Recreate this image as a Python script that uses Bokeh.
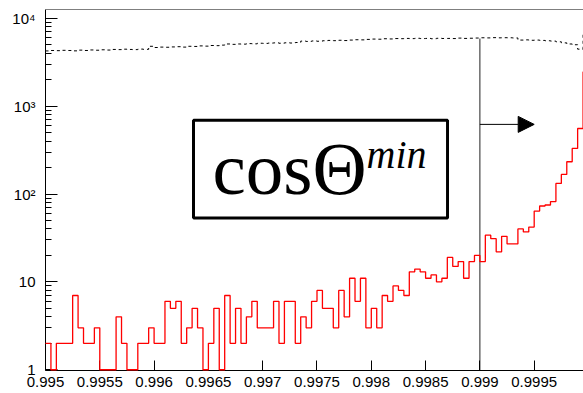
import numpy as np
from bokeh.plotting import figure
from bokeh.models import Range1d, FixedTicker, Span, BoxAnnotation, Arrow, NormalHead
from bokeh.core.properties import value
from bokeh.embed import file_html
from bokeh.resources import INLINE

# ---- data ----
bin_lo = 0.995
bin_hi = 1.0
n_bins = 100

red_counts = [2, 1, 2, 2, 2, 7, 3, 2, 2, 3,
              1, 1, 1, 4, 2, 1, 1, 2, 2, 3,
              2, 2, 6, 5, 6, 2, 3, 5, 3, 1,
              2, 5, 1, 7, 2, 5, 2, 4, 6, 3,
              3, 3, 6, 2, 6, 6, 2, 4, 3, 6,
              8, 5, 5, 3, 8, 4, 11, 6, 11, 3,
              5, 3, 7, 6, 9, 8, 7, 13, 14, 13,
              11, 12, 10, 11, 19, 15, 17, 11, 17, 20,
              17, 34, 31, 22, 33, 27, 27, 40, 37, 42,
              64, 73, 75, 82, 132, 167, 233, 330, 557, 2450]

all_counts = [4250, 4300, 4280, 4320, 4300, 4260, 4340, 4300, 4360, 4330,
              4380, 4350, 4420, 4400, 4450, 4420, 4400, 4460, 4430, 4800,
              4650, 4700, 4680, 4720, 4750, 4700, 4800, 4780, 4850, 4820,
              4900, 4880, 4950, 5100, 5050, 5100, 5080, 5150, 5120, 5200,
              5180, 5220, 5250, 5200, 5260, 5230, 5300, 5500, 5450, 5520,
              5480, 5550, 5600, 5560, 5620, 5580, 5650, 5700, 5680, 5750,
              5800, 5780, 5850, 5820, 5880, 5860, 5900, 5870, 5920, 5880,
              5900, 5850, 5920, 5890, 5900, 5880, 5950, 5900, 5930, 5960,
              6000, 5980, 6020, 5990, 6010, 6000, 5970, 5650, 5680, 5620,
              5650, 5600, 5550, 5500, 5400, 5250, 5100, 5000, 4450, 6800]

x_ticks = [0.995, 0.9955, 0.996, 0.9965, 0.997, 0.9975, 0.998, 0.9985, 0.999, 0.9995]
x_tick_labels = ["0.995", "0.9955", "0.996", "0.9965", "0.997", "0.9975",
                 "0.998", "0.9985", "0.999", "0.9995"]
y_ticks = [1, 10, 100, 1000, 10000]
y_tick_labels = ["1", "10", "10\u00b2", "10\u00b3", "10\u2074"]

cut_value = 0.999
cut_line_top = 5880
arrow_y = 620
arrow_end = 0.9995

edges = list(np.linspace(bin_lo, bin_hi, n_bins + 1))

p = figure(width=583, height=393, y_axis_type="log",
           x_range=Range1d(0.995, 0.999954), y_range=Range1d(0.98, 10 ** 4.1),
           output_backend="svg", toolbar_location=None,
           min_border_left=45, min_border_right=0, min_border_top=9, min_border_bottom=23)
p.outline_line_color = None
p.grid.visible = False
p.background_fill_color = "white"
p.border_fill_color = "white"

# histograms
p.step(x=edges, y=all_counts + [all_counts[-1]], mode="after",
       line_color="black", line_width=1, line_dash="3 3")
r = p.step(x=edges, y=red_counts + [red_counts[-1]], mode="after",
           line_color="#ff0000", line_width=1.3)
r.level = "overlay"

# cut line and arrow
p.segment(x0=[cut_value], y0=[0.98], x1=[cut_value], y1=[cut_line_top],
          line_color="#222222", line_width=1)
p.add_layout(Arrow(end=NormalHead(size=16, fill_color="black", line_color="black"),
                   x_start=cut_value, y_start=arrow_y, x_end=arrow_end, y_end=arrow_y,
                   line_color="black", line_width=1))

# top frame line
p.add_layout(Span(location=10 ** 4.1, dimension="width", line_color="black", line_width=1))

# label box
p.add_layout(BoxAnnotation(left=0.996363, right=0.998702, bottom=53.4, top=693,
                           fill_color="white", fill_alpha=1.0,
                           line_color="black", line_alpha=1.0, line_width=3,
                           level="annotation"))
t1 = p.text(x=[0.996538], y=[196.8], text=["cos\u0398"],
            text_font=value("Liberation Serif"), text_font_size="75px",
            text_color="black", text_baseline="alphabetic", text_align="left")
t2 = p.text(x=[0.997956], y=[280], text=["min"],
            text_font=value("Liberation Serif"), text_font_style="italic",
            text_font_size="40px", text_color="black",
            text_baseline="alphabetic", text_align="left")
t1.level = "overlay"
t2.level = "overlay"

# axes
xa = p.xaxis[0]
xa.ticker = FixedTicker(ticks=x_ticks, minor_ticks=[])
xa.major_label_overrides = dict(zip(x_ticks, x_tick_labels))
xa.major_tick_in = 10
xa.major_tick_out = 0
xa.minor_tick_line_color = None
xa.axis_line_color = "black"
xa.major_tick_line_color = "black"
xa.major_label_text_font = "Liberation Sans"
xa.major_label_text_font_size = "15px"
xa.major_label_text_color = "black"
xa.major_label_standoff = 6

minor_y = [m * d for d in [1, 10, 100, 1000] for m in range(2, 10)]
ya = p.yaxis[0]
ya.ticker = FixedTicker(ticks=y_ticks, minor_ticks=minor_y)
ya.major_label_overrides = dict(zip(y_ticks, y_tick_labels))
ya.major_tick_in = 12
ya.major_tick_out = 0
ya.minor_tick_in = 6
ya.minor_tick_out = 0
ya.axis_line_color = "black"
ya.major_tick_line_color = "black"
ya.minor_tick_line_color = "black"
ya.major_label_text_font = "Liberation Sans"
ya.major_label_text_font_size = "15px"
ya.major_label_text_color = "black"
ya.major_label_standoff = 10

open("out.html", "w").write(file_html(p, INLINE))
